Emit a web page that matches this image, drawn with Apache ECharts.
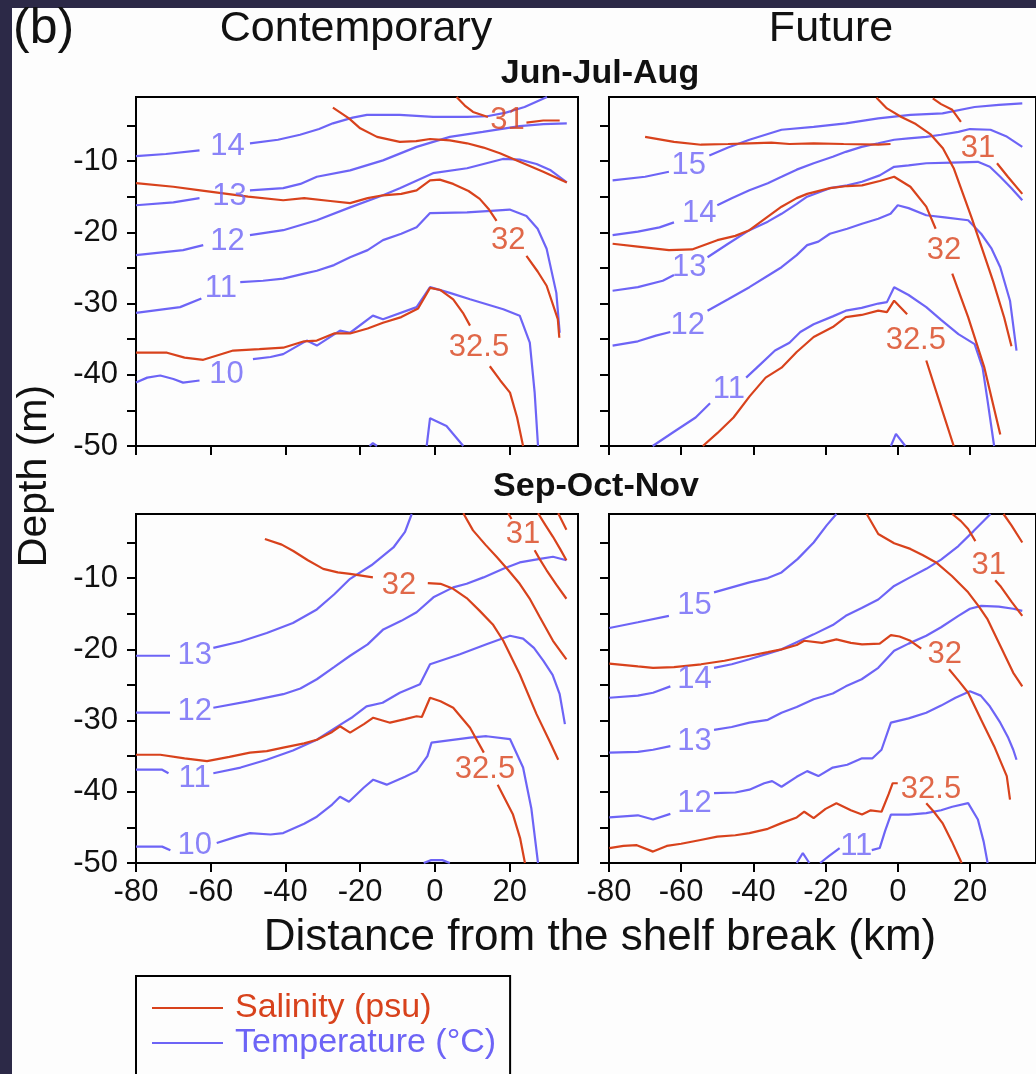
<!DOCTYPE html>
<html>
<head>
<meta charset="utf-8">
<script src="https://cdn.jsdelivr.net/npm/echarts@6.0.0/dist/echarts.min.js"></script>
<style>
html,body{margin:0;padding:0;width:1036px;height:1074px;overflow:hidden;background:#2c2947;}
#paper{position:absolute;left:12px;top:8px;width:1024px;height:1120px;background:#fdfdfd;}
#chart{position:absolute;left:0;top:0;width:1036px;height:1120px;}
</style>
</head>
<body>
<div id="paper"></div>
<div id="chart"></div>
<script>
// ---------- axis ticks / labels ----------
const X_TICKS = [-80, -60, -40, -20, 0, 20];
const Y_TICKS = [-50, -45, -40, -35, -30, -25, -20, -15, -10, -5];
const Y_LABELS = [-50, -40, -30, -20, -10];
const X_MIN = -80, X_MAX = 38.3, Y_MIN = -50, Y_MAX = -1;

// ---------- contour lines: [distance km, depth m], null = gap for inline label ----------
// Jun-Jul-Aug, Contemporary
const JJA_NOW_TEMP = [
  [[-80,-9.3],[-72,-9.0],[-63,-8.5],null,[-49.5,-7.5],[-42,-7.0],[-36.1,-6.3],[-31,-5.5],[-27.3,-4.7],[-22,-3.9],[-18.2,-3.5],[-9.4,-3.5],[-0.5,-3.8],[8.6,-3.8],[14,-3.7],[19,-3.2],[24,-2.4],[30,-1]],
  [[-80,-16.2],[-70,-15.8],[-63,-15.2],null,[-49.5,-14.1],[-40.6,-13.8],[-36,-13.2],[-31.6,-12.2],[-22.7,-11.3],[-13.9,-9.9],[-4.9,-8.0],[4,-6.6],[12.8,-5.9],[22.7,-5.1],[29,-4.8],[35.3,-4.7]],
  [[-80,-23.2],[-67.4,-22.5],[-62,-21.8],null,[-49.5,-20.4],[-40.6,-19.7],[-31.6,-18.3],[-22.7,-16.5],[-13.9,-14.8],[-9.4,-13.8],[-0.5,-11.7],[8.6,-11],[18.2,-9.7],[22.7,-9.8],[27.2,-10.4],[31,-11.3],[35.3,-13]],
  [[-80,-31.3],[-68.2,-30.5],[-62.5,-29.3],null,[-52.1,-27],[-46,-26.8],[-40.6,-26.5],[-35,-25.8],[-31.6,-25.4],[-27,-24.6],[-22.7,-23.5],[-18,-22.5],[-13.9,-21.1],[-9,-20.2],[-4.9,-19.3],[-1.3,-17.3],[8.6,-17.2],[15,-17],[20,-16.8],[24.5,-17.7],[27.5,-19.5],[29.9,-22.3],[32.5,-28.5],[33.4,-34.1]],
  [[-80,-41.1],[-77,-40.4],[-73.5,-40.1],[-70,-40.6],[-67.4,-41.1],[-63,-40.8],null,[-48.7,-37.8],[-44,-37.5],[-40.6,-37.1],[-34.3,-35.2],[-31.6,-35.9],[-25.4,-33.8],[-22.7,-34.1],[-16.6,-31.7],[-13.9,-32.2],[-4.9,-30.5],[-1.3,-27.7],[4,-28.5],[9.4,-29.4],[18.3,-30.8],[22.7,-31.7],[25.4,-35.5],[26.7,-42.5],[27.6,-50]],
  [[-2.2,-50],[-1.3,-46.1],[3.1,-47.2],[7.6,-50]],
  [[-17.5,-50],[-16.6,-49.6],[-15.5,-50]]
];
const JJA_NOW_SAL = [
  [[5.8,-1],[8,-2.2],[10.2,-3.1],[14.2,-3.8],null,[24.5,-4.6],[29,-4.3],[33.4,-4.3]],
  [[-27.3,-2.5],[-23,-4],[-20,-5.4],[-15.5,-6.6],[-9.4,-7.3],[-5,-7.2],[-1.3,-6.9],[4,-7.1],[8.6,-7.5],[13,-8.1],[17.4,-8.9],[22.7,-10.1],[29,-11.5],[35.3,-13]],
  [[-80,-13.1],[-70,-13.6],[-62.8,-14.1],[-50,-15.0],[-40.6,-15.5],[-35,-15.2],[-28,-15.6],[-22.7,-15.9],[-18,-15.2],[-13.9,-14.8],[-9,-14.6],[-4.9,-14.1],[-1.3,-12.7],[1.3,-12.6],[4.9,-13.2],[9,-14.2],[12,-15.3],[14.5,-16.8],[16.5,-18.4],null,[24.5,-23.3],[27.5,-25.5],[29.9,-27.5],[32.9,-32.2],[33.3,-34.8]],
  [[-80,-36.9],[-71.7,-36.9],[-67,-37.6],[-62,-37.9],[-54,-36.6],[-47,-36.4],[-40.6,-36.2],[-35,-35.3],[-31.6,-35.2],[-27,-34.2],[-22.7,-34.2],[-18,-33.5],[-13.9,-32.7],[-9,-31.9],[-4.5,-30.7],[-1.3,-27.8],[1.5,-28.1],[4.9,-29.4],[7.5,-31.3],[9.4,-33.1],null,[14.7,-38.8],[17.5,-40.8],[20.1,-42.5],[22,-46],[23.6,-50]]
];
const JJA_NOW_LABELS = [
  ['14',-55.5,-8.0,'T'],['13',-55,-15.0,'T'],['12',-55.5,-21.3,'T'],['11',-57.3,-27.9,'T'],['10',-55.8,-40.0,'T'],
  ['31',19.4,-4.3,'S'],['32',19.6,-21.2,'S'],['32.5',11.8,-36.2,'S']
];

// Jun-Jul-Aug, Future
const JJA_FUT_TEMP = [
  [[-79,-12.7],[-70,-12.2],[-63.4,-11.5],null,[-52.2,-9.2],[-47,-8.1],[-41.1,-7.0],[-36,-6.2],[-32.2,-5.6],[-23.3,-5.2],[-14.4,-4.7],[-5.4,-4.0],[3.5,-3.5],[12.4,-3.3],[21.3,-2.4],[28,-2.1],[34.5,-1.9]],
  [[-79,-20.4],[-72,-19.9],[-66,-19.3],[-62,-18.6],null,[-50,-16.2],[-46,-15.2],[-41.1,-14.1],[-36,-13.1],[-32.2,-12.2],[-28,-11.2],[-23.3,-10.3],[-18,-9.4],[-14.4,-8.7],[-10,-8.0],[-5.4,-7.5],[-1,-7],[3,-6.8],[7.9,-6.6],[12,-6.3],[16.8,-5.9],[20,-5.5],[25.7,-5.6],[30,-6.5],[34.5,-8]],
  [[-79,-28.2],[-72,-27.7],[-65.1,-26.8],[-62,-26],null,[-52.7,-23.5],[-47,-21.6],[-41.1,-19.7],[-36,-18.5],[-32.2,-17.4],[-28,-16],[-25.1,-15],[-18.8,-13.8],[-14,-13.4],[-9.9,-12.9],[-5,-12],[-1,-10.8],[3,-10.6],[7.9,-10.3],[15,-10.2],[22.2,-10.1],[25.5,-10.8],[28.4,-12.2],[31.5,-13.8],[34.5,-15.5]],
  [[-79,-35.9],[-72,-35.3],[-67,-34.5],[-63,-34],null,[-52.7,-31],[-47,-29.4],[-41.1,-27.7],[-36,-26.1],[-32.2,-24.9],[-28,-23.2],[-25.1,-21.8],[-22,-21.3],[-18.8,-20.2],[-14,-19.5],[-9.9,-18.8],[-5.4,-18.1],[-2,-17.4],[0,-16.2],[3,-16.6],[7.9,-17.6],[13,-17.9],[19.5,-18.3],[23.1,-20.2],[26,-22.3],[28.4,-24.9],[31.1,-29.6],[32.9,-36.6]],
  [[-67.9,-50],[-62,-48],[-56,-46],[-52,-44],null,[-42,-40.4],[-38,-38.5],[-34,-36.6],[-30,-35.5],[-27,-34],[-23.3,-32.9],[-18,-31.8],[-14.4,-31],[-10,-30.6],[-5.4,-30],[-3,-29.8],[-1,-27.7],[3,-28.8],[7.9,-30.5],[12,-32.3],[16.8,-34.3],[21.3,-35.7],[23.5,-39],[24.9,-43.7],[26.7,-50]],
  [[-1.9,-50],[-0.5,-48.3],[2.1,-50]]
];
const JJA_FUT_SAL = [
  [[9.7,-1.2],[12,-2],[15.1,-2.8],[17.5,-4.5],null,[27.5,-10.3],[30.5,-12.2],[34.5,-14.6]],
  [[-5.9,-1.1],[-3,-2.6],[1,-3.8],[5,-4.8],[9,-6.2],[12.5,-8.2],[15.5,-11],[18,-14.5],[20.5,-18],[23.5,-22.5],[26.5,-27],[29.5,-32],[31.5,-36]],
  [[-70,-6.6],[-62,-7.3],[-54.5,-7.7],[-47,-7.6],[-41.1,-7.5],[-35,-7.4],[-30,-7.6],[-23.3,-7.5],[-15,-7.6],[-5.4,-7.7],[-2,-7.6]],
  [[-79,-21.6],[-72,-22],[-63.4,-22.5],[-57,-22.4],[-50,-21.1],[-45,-20.5],[-41.1,-19.7],[-36,-17.8],[-32.2,-16.4],[-28,-15.2],[-25.1,-14.6],[-18.8,-13.8],[-14,-13.5],[-9.9,-13.4],[-5,-12.8],[-1,-12.2],[3.5,-13.6],[7.9,-16.4],[10.5,-19.5],null,[15.1,-25.8],[19.5,-31.9],[24,-39],[28.4,-48.4]],
  [[-54,-50],[-50,-48.2],[-45.5,-46],[-41,-43],[-36.6,-40.4],[-32.2,-39],[-28,-36.8],[-23.3,-34.7],[-18,-33.3],[-14.4,-31.9],[-10,-31.6],[-5.4,-31],[-3,-31.2],[-1,-29.6],[2.6,-31.5],null,[7.9,-38],[11.5,-43.7],[15.5,-50]]
];
const JJA_FUT_LABELS = [
  ['15',-57.9,-10.6,'T'],['14',-55,-17.3,'T'],['13',-57.8,-24.9,'T'],['12',-58.2,-33.1,'T'],['11',-46.8,-42.1,'T'],
  ['31',22.2,-8.2,'S'],['32',12.8,-22.6,'S'],['32.5',5,-35.2,'S']
];

// Sep-Oct-Nov, Contemporary
const SON_NOW_TEMP = [
  [[-80,-20.9],[-70.9,-20.9],null,[-59.3,-19.8],[-52,-18.9],[-45,-17.7],[-38,-16.3],[-31.6,-14.4],[-27,-12.3],[-22.7,-10.1],[-17,-8.2],[-11.1,-5.7],[-8,-3.5],[-6.2,-1]],
  [[-80,-28.9],[-70.9,-28.9],null,[-59.3,-28.2],[-50,-27.3],[-40.6,-26.3],[-36,-25.5],[-31.6,-24.2],[-27,-22.5],[-22.7,-20.9],[-18,-19.3],[-13.8,-17.2],[-9,-16.0],[-4.9,-14.8],[-0.4,-12.7],[4.9,-11.3],[8.5,-10.8],[13,-9.9],[18.3,-8.7],[22.7,-7.8],[28.1,-7.3],[31.6,-7],[35.2,-7.5]],
  [[-80,-36.9],[-73,-36.9],[-71.3,-37.4],null,[-59.3,-37.4],[-52,-36.6],[-45,-35.5],[-38,-34.2],[-31.6,-32.7],[-25.4,-30.6],[-22,-29.5],[-18.3,-28],[-14,-27.5],[-9.4,-26.1],[-4,-24.9],[-1.3,-22.1],[6.7,-20.7],[13.8,-19.3],[20.1,-18.1],[23.6,-18.5],[26.5,-19.8],[29,-21.6],[31.5,-23.6],[33.4,-26.3],[34.8,-30.5]],
  [[-80,-47.7],[-73,-47.7],[-70.8,-48.2],null,[-58.4,-47.2],[-53,-46.3],[-49.5,-45.8],[-44,-46.0],[-40.6,-45.8],[-35,-44.5],[-31.6,-43.5],[-27.5,-41.8],[-25.4,-40.7],[-23,-41.4],[-19,-39.4],[-16.5,-38.3],[-12.9,-39],[-8,-37.9],[-4.9,-37.1],[-2,-35],[-0.9,-33.1],[9.4,-32.4],[13.8,-32.2],[20.1,-32.6],[23.6,-36.6],[25.8,-42.3],[27.6,-50]],
  [[-3,-50],[-1,-49.6],[2,-49.6],[4,-50]]
];
const SON_NOW_SAL = [
  [[33,-0.9],[35.2,-3.2]],
  [[27.6,-0.9],[29.5,-2.5],[31.6,-4.2],[33.5,-5.9],[35.2,-7.5]],
  [[19.6,-0.9],[20.5,-1.7],null,[26.7,-6.1],[28,-7.3],[29.9,-8.9],[32.5,-10.9],[35.2,-12.9]],
  [[7.6,-0.9],[10.2,-3.3],[13.5,-5.3],[16.5,-7],[19.5,-8.8],[22.7,-10.8],[25.5,-13],[28.1,-15.5],[31.6,-18.8],[35.2,-21.4]],
  [[-45.5,-4.5],[-41,-5.3],[-37.9,-6.2],[-34,-7.5],[-29.9,-8.7],[-26,-9.2],[-22.7,-9.4],[-16.6,-9.9],null,[-1.9,-10.7],[1.5,-10.8],[4.9,-11.5],[8.5,-12.8],[12,-14.6],[15.5,-16.5],[18.3,-18.8],[22.7,-23.5],[27.2,-29.1],[30.7,-32.9],[33,-35.5]],
  [[-80,-34.8],[-73.5,-34.8],[-67,-35.3],[-61,-35.7],[-55,-35.1],[-49.5,-34.5],[-45,-34.3],[-40.6,-33.8],[-35,-33.2],[-31.6,-32.7],[-27.5,-31.6],[-25.4,-30.8],[-22.7,-31.7],[-19,-30.5],[-16.5,-29.6],[-12,-30.3],[-8,-29.8],[-4.9,-29.4],[-3.5,-29.5],[-1.3,-26.8],[1.5,-27.3],[4.9,-28.2],[9.4,-31],[13.1,-34.5],null,[16.8,-39],[20.9,-43.2],[22.8,-46.5],[24.1,-50]]
];
const SON_NOW_LABELS = [
  ['13',-64.3,-20.8,'T'],['12',-64.3,-28.7,'T'],['11',-64.3,-38.1,'T'],['10',-64.3,-47.5,'T'],
  ['31',23.6,-3.9,'S'],['32',-9.6,-11.0,'S'],['32.5',13.4,-36.8,'S']
];

// Sep-Oct-Nov, Future
const SON_FUT_TEMP = [
  [[-79.9,-17],[-72,-16.2],[-63.4,-15.3],null,[-50.9,-12],[-46,-11.3],[-41.1,-10.6],[-36,-10],[-32.2,-9.2],[-27.7,-7.3],[-23.3,-5],[-19.7,-2.6],[-17,-1]],
  [[-79.9,-26.8],[-72,-26.5],[-67.8,-26.1],[-63,-25.2],null,[-50.9,-22.6],[-46,-22.1],[-41.1,-21.4],[-36,-20.6],[-32.2,-20],[-28,-19],[-23.3,-17.9],[-18,-16.6],[-14.4,-15.3],[-10,-14.2],[-5.4,-13],[-1,-11.1],[3,-10],[7.9,-8.7],[12,-7.4],[16.8,-5.5],[21,-3.4],[25.7,-1]],
  [[-79.9,-34.5],[-72,-34.4],[-67.8,-34.1],[-63,-33.6],null,[-50.9,-31.3],[-46,-30.9],[-41.1,-30.3],[-36,-29.9],[-32.2,-28.9],[-28,-28.1],[-23.3,-27],[-18,-26.2],[-14.4,-25.2],[-10,-24.2],[-5.4,-22.6],[-1,-20.2],[3,-19.2],[7.9,-18.1],[12,-16.9],[16.8,-15.3],[20,-14.3],[23.1,-13.9],[28,-14.0],[32,-14.3],[34.5,-14.6]],
  [[-79.9,-43.6],[-72,-43.3],[-67.8,-43.9],[-63,-43.1],null,[-50.9,-40.2],[-45,-40.1],[-41.1,-39.7],[-37,-38.8],[-34.8,-38.5],[-32.2,-39.3],[-28,-37.9],[-25.1,-37.1],[-22,-37.8],[-18,-36.6],[-14,-36.2],[-9.9,-35.3],[-7,-35.3],[-4.5,-34.1],[-1.9,-30.3],[3,-29.7],[7.9,-28.9],[12,-27.9],[16,-26.8],[20,-25.9],[23,-26.5],[25.5,-28],[28.4,-30.3],[30.5,-32.3],[32,-34.1],[32.9,-35.5]],
  [[-21.5,-50],[-19,-49],[-16.1,-47.9],null,[-7.2,-48.2],[-5,-47.9],[-3.5,-45.5],[-1.9,-43.2],[3,-43.2],[7.9,-43],[12,-42.6],[15.1,-42.1],[19.5,-41.6],[22.2,-43.9],[23.8,-47],[24.9,-50]],
  [[-28,-50],[-26.3,-48.6],[-24.5,-50]]
];
const SON_FUT_SAL = [
  [[29.3,-1],[31.5,-2.6],[34.5,-5]],
  [[15.1,-1],[17.5,-2],[19.5,-3.1],[21.5,-4.8],null,[27,-10.3],[28.4,-11.1],[31.5,-13.3],[34.5,-15.3]],
  [[-8.6,-1],[-5.4,-3.8],[-1,-5.1],[3.5,-5.9],[7,-6.8],[10.6,-7.8],[15,-9.7],[19.5,-12],[22.5,-14],[24.9,-15.8],[28.4,-19.5],[32,-23.3],[34.5,-25.2]],
  [[-79.9,-22],[-72,-22.4],[-67.8,-22.6],[-62,-22.5],[-54.5,-22.1],[-48,-21.6],[-41.1,-20.9],[-36,-20.4],[-32.2,-20],[-28,-19.4],[-25.9,-18.8],[-21,-19.1],[-17,-18.6],[-13,-19.1],[-9.9,-19.3],[-5,-19.2],[-1.9,-18],[0.5,-18.2],[3.5,-18.8],[6.5,-19.9],null,[14.2,-22.8],[17,-24.5],[19.5,-26.1],[23.1,-29.9],[26.7,-33.6],[30.2,-37.8],[31.1,-41.1]],
  [[-79.9,-47.9],[-76,-47.6],[-72.3,-47.5],[-67.8,-48.4],[-64,-47.6],[-60,-47.3],[-55,-46.8],[-50,-46.3],[-45,-46.1],[-41.1,-45.8],[-36,-45.2],[-32.2,-44.4],[-28,-43.6],[-25.9,-42.8],[-23.3,-43.7],[-20,-42.4],[-17,-41.6],[-13,-42.6],[-9.9,-43.2],[-7.5,-42.6],[-4.5,-42.8],[-2.5,-40.3],[-1.4,-38.8],[0,-38.8],null,[7.9,-41.6],[10,-42.8],[12.4,-44.4],[15,-47],[17.7,-50]]
];
const SON_FUT_LABELS = [
  ['15',-56.3,-13.9,'T'],['14',-56.3,-24.2,'T'],['13',-56.3,-32.9,'T'],['12',-56.3,-41.6,'T'],['11',-11.5,-47.7,'T'],
  ['31',25.2,-8.2,'S'],['32',13,-20.7,'S'],['32.5',9.2,-39.7,'S']
];

// ---------- styling ----------
const RED = '#d8421c';
const BLUE = '#6d64f6';
const FONT = '"Liberation Sans", Arial, Helvetica, sans-serif';
const SAL_NAME = 'Salinity (psu)';
const TEMP_NAME = 'Temperature (\u00B0C)';

const PANELS = [
  {temp: JJA_NOW_TEMP, sal: JJA_NOW_SAL, labels: JJA_NOW_LABELS, left: 136, top: 97, xl: false, yl: true},
  {temp: JJA_FUT_TEMP, sal: JJA_FUT_SAL, labels: JJA_FUT_LABELS, left: 609, top: 97, xl: false, yl: false},
  {temp: SON_NOW_TEMP, sal: SON_NOW_SAL, labels: SON_NOW_LABELS, left: 136, top: 514, xl: true, yl: true},
  {temp: SON_FUT_TEMP, sal: SON_FUT_SAL, labels: SON_FUT_LABELS, left: 609, top: 514, xl: true, yl: false}
];

const grids = [], xAxes = [], yAxes = [], series = [];
PANELS.forEach((p, i) => {
  grids.push({left: p.left, top: p.top, width: 442, height: 349, show: true,
    borderColor: '#000', borderWidth: 2, backgroundColor: 'transparent', containLabel: false});
  xAxes.push({type: 'value', gridIndex: i, min: X_MIN, max: X_MAX, position: 'bottom',
    axisLine: {show: true, onZero: false, lineStyle: {color: '#000', width: 2}},
    axisTick: {show: true, customValues: X_TICKS, length: 9, inside: false, lineStyle: {color: '#000', width: 2}},
    axisLabel: {show: p.xl, customValues: X_TICKS, margin: 14, fontSize: 31, color: '#111', fontFamily: FONT},
    splitLine: {show: false}});
  yAxes.push({type: 'value', gridIndex: i, min: Y_MIN, max: Y_MAX, position: 'left',
    axisLine: {show: true, onZero: false, lineStyle: {color: '#000', width: 2}},
    axisTick: {show: true, customValues: Y_TICKS, length: 9, inside: false, lineStyle: {color: '#000', width: 2}},
    axisLabel: {show: p.yl, customValues: Y_LABELS, margin: 18, fontSize: 31, color: '#111', fontFamily: FONT},
    splitLine: {show: false}});
  p.temp.forEach((line) => {
    series.push({type: 'line', name: TEMP_NAME, xAxisIndex: i, yAxisIndex: i, data: line,
      symbol: 'none', showSymbol: false, connectNulls: false, clip: true, z: 2,
      lineStyle: {color: BLUE, width: 2.2}, itemStyle: {color: BLUE}, emphasis: {disabled: true}});
  });
  p.sal.forEach((line) => {
    series.push({type: 'line', name: SAL_NAME, xAxisIndex: i, yAxisIndex: i, data: line,
      symbol: 'none', showSymbol: false, connectNulls: false, clip: true, z: 3,
      lineStyle: {color: RED, width: 2.2}, itemStyle: {color: RED}, emphasis: {disabled: true}});
  });
  series.push({type: 'scatter', name: 'contour labels ' + i, xAxisIndex: i, yAxisIndex: i,
    symbolSize: 1, itemStyle: {color: 'rgba(0,0,0,0)'}, silent: true, z: 4, clip: false,
    data: p.labels.map(l => ({value: [l[1], l[2]],
      label: {show: true, position: 'inside', formatter: l[0], color: l[3] === 'S' ? RED : BLUE,
        fontSize: 31, fontFamily: FONT}}))});
});

const chart = echarts.init(document.getElementById('chart'), null, {renderer: 'canvas'});
chart.setOption({
  animation: false,
  backgroundColor: 'transparent',
  grid: grids, xAxis: xAxes, yAxis: yAxes, series: series,
  legend: {
    orient: 'vertical', left: 136, top: 976,
    data: [{name: SAL_NAME, textStyle: {color: RED}}, {name: TEMP_NAME, textStyle: {color: BLUE}}],
    icon: 'rect', itemWidth: 71, itemHeight: 2, itemGap: 1,
    borderColor: '#000', borderWidth: 2, borderRadius: 0, padding: [15, 14, 40, 16],
    textStyle: {fontSize: 34, fontFamily: FONT, padding: [0, 0, 0, 7]},
    selectedMode: false
  },
  graphic: [
    {type: 'text', x: 13, y: 29, style: {text: '(b)', fontSize: 50, fontFamily: FONT, fill: '#111', align: 'left', verticalAlign: 'middle'}},
    {type: 'text', x: 356, y: 29, style: {text: 'Contemporary', fontSize: 43, fontFamily: FONT, fill: '#111', align: 'center', verticalAlign: 'middle'}},
    {type: 'text', x: 831, y: 29, style: {text: 'Future', fontSize: 43, fontFamily: FONT, fill: '#111', align: 'center', verticalAlign: 'middle'}},
    {type: 'text', x: 600, y: 74, style: {text: 'Jun-Jul-Aug', fontSize: 34, fontWeight: 'bold', fontFamily: FONT, fill: '#111', align: 'center', verticalAlign: 'middle'}},
    {type: 'text', x: 596, y: 487, style: {text: 'Sep-Oct-Nov', fontSize: 34, fontWeight: 'bold', fontFamily: FONT, fill: '#111', align: 'center', verticalAlign: 'middle'}},
    {type: 'text', x: 600, y: 938, style: {text: 'Distance from the shelf break (km)', fontSize: 44, fontFamily: FONT, fill: '#111', align: 'center', verticalAlign: 'middle'}},
    {type: 'text', x: 35, y: 476, rotation: Math.PI / 2, style: {text: 'Depth (m)', fontSize: 41, fontFamily: FONT, fill: '#111', align: 'center', verticalAlign: 'middle'}}
  ]
});
</script>
</body>
</html>
